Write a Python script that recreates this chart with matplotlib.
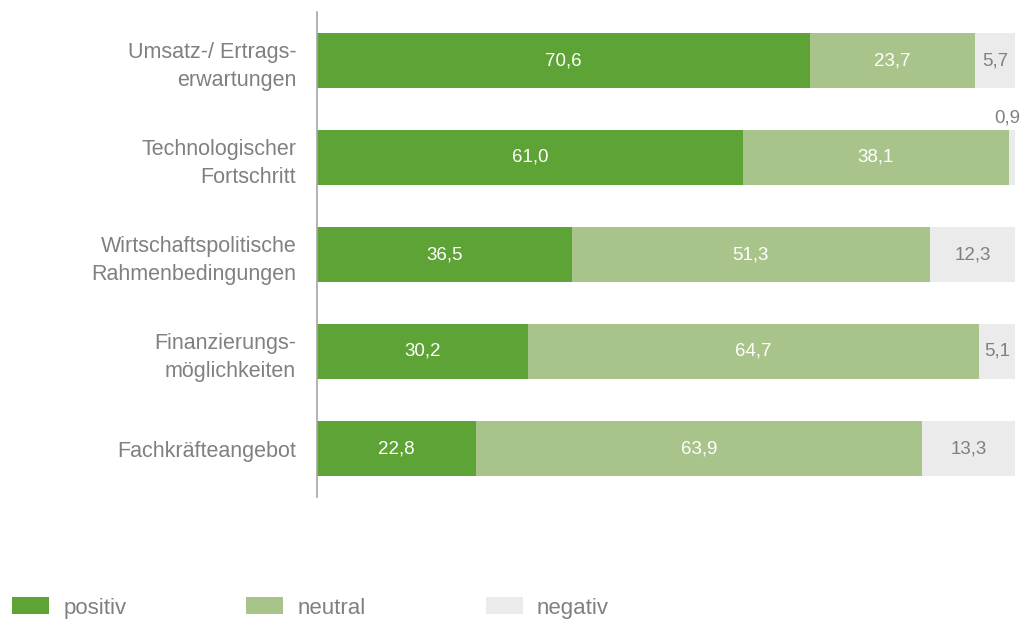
import matplotlib
matplotlib.use("Agg")
import matplotlib.pyplot as plt
import numpy as np

plt.rcParams.update({"font.family": ["Liberation Sans", "DejaVu Sans"]})

C_POS, C_NEU, C_NEG = "#5EA336", "#A8C48A", "#EBEBEB"
C_TEXT = "#808080"

categories = ["Umsatz-/ Ertrags-\nerwartungen", "Technologischer\nFortschritt",
              "Wirtschaftspolitische\nRahmenbedingungen", "Finanzierungs-\nmöglichkeiten",
              "Fachkräfteangebot"]
positiv = [70.6, 61.0, 36.5, 30.2, 22.8]
neutral = [23.7, 38.1, 51.3, 64.7, 63.9]
negativ = [5.7, 0.9, 12.3, 5.1, 13.3]
series_names = ["positiv", "neutral", "negativ"]

def fmt(v):
    return f"{v:.1f}".replace(".", ",")

fig = plt.figure(figsize=(10.24, 6.22), dpi=100)
ax = fig.add_axes([317 / 1024, 1 - 497 / 622, 698 / 1024, 485 / 622])

y = np.arange(len(categories))
h = 0.567
left = np.zeros(len(categories))
bars = []
for vals, col, name in zip([positiv, neutral, negativ], [C_POS, C_NEU, C_NEG], series_names):
    b = ax.barh(y, vals, left=left, height=h, color=col, label=name, linewidth=0)
    bars.append(b)
    for i, v in enumerate(vals):
        cx = left[i] + v / 2
        if name == "negativ":
            if v < 3:
                # too thin: put the label above the bar end
                ax.text(left[i] + v + 0.7, y[i] - h / 2 - 0.04, fmt(v), ha="right", va="bottom",
                        fontsize=13.5, color=C_TEXT)
            else:
                ax.text(cx, y[i], fmt(v), ha="center", va="center", fontsize=13.5, color=C_TEXT)
        else:
            ax.text(cx, y[i], fmt(v), ha="center", va="center", fontsize=13.5, color="white")
    left = left + np.array(vals)

ax.set_xlim(0, 100)
ax.set_ylim(4.5, -0.5)
ax.set_yticks(y)
ax.set_yticklabels(categories, fontsize=15.5, color=C_TEXT, linespacing=1.45)
ax.tick_params(axis="y", length=0, pad=15)
ax.set_xticks([])
for s in ["top", "right", "bottom"]:
    ax.spines[s].set_visible(False)
ax.spines["left"].set_color("#A6A6A6")
ax.spines["left"].set_linewidth(1.2)
for lab in ax.get_yticklabels():
    lab.set_horizontalalignment("right")

leg = fig.legend(handles=bars, labels=series_names, loc="center left",
                 bbox_to_anchor=(12 / 1024, 14 / 622), ncol=3, frameon=False,
                 fontsize=16, handlelength=1.67, handleheight=0.77, handletextpad=0.63,
                 columnspacing=5.4, borderpad=0, borderaxespad=0)
for t in leg.get_texts():
    t.set_color(C_TEXT)

fig.savefig("out.png", dpi=100)
